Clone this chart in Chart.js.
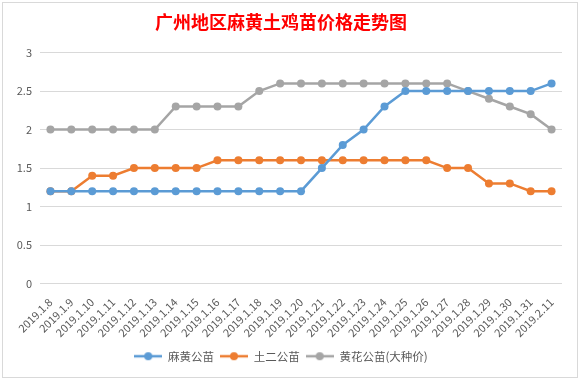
<!DOCTYPE html>
<html>
<head>
<meta charset="utf-8">
<script src="https://cdn.jsdelivr.net/npm/chart.js@4/dist/chart.umd.min.js"></script>
<style>
  html, body { margin: 0; padding: 0; background: #fff; }
  #wrap { position: relative; width: 580px; height: 380px; }
</style>
</head>
<body>
<div id="wrap"><canvas id="c"></canvas></div>
<script>
const titleText = '广州地区麻黄土鸡苗价格走势图';
const categories = ['2019.1.8','2019.1.9','2019.1.10','2019.1.11','2019.1.12','2019.1.13','2019.1.14','2019.1.15','2019.1.16','2019.1.17','2019.1.18','2019.1.19','2019.1.20','2019.1.21','2019.1.22','2019.1.23','2019.1.24','2019.1.25','2019.1.26','2019.1.27','2019.1.28','2019.1.29','2019.1.30','2019.1.31','2019.2.11'];
const seriesNames = ['麻黄公苗', '土二公苗', '黄花公苗(大种价)'];
const mahuang = [1.2,1.2,1.2,1.2,1.2,1.2,1.2,1.2,1.2,1.2,1.2,1.2,1.2,1.5,1.8,2.0,2.3,2.5,2.5,2.5,2.5,2.5,2.5,2.5,2.6];
const tuer = [1.2,1.2,1.4,1.4,1.5,1.5,1.5,1.5,1.6,1.6,1.6,1.6,1.6,1.6,1.6,1.6,1.6,1.6,1.6,1.5,1.5,1.3,1.3,1.2,1.2];
const huanghua = [2.0,2.0,2.0,2.0,2.0,2.0,2.3,2.3,2.3,2.3,2.5,2.6,2.6,2.6,2.6,2.6,2.6,2.6,2.6,2.6,2.5,2.4,2.3,2.2,2.0];
const colors = ['#5B9BD5', '#ED7D31', '#A5A5A5'];

function legendIcon(color) {
  const cv = document.createElement('canvas');
  cv.width = 28; cv.height = 10;
  const g = cv.getContext('2d');
  g.strokeStyle = color; g.lineWidth = 2.5;
  g.beginPath(); g.moveTo(0, 5); g.lineTo(28, 5); g.stroke();
  g.fillStyle = color;
  g.beginPath(); g.arc(14, 5, 4, 0, Math.PI * 2); g.fill();
  return cv;
}
const icons = colors.map(legendIcon);

const frame = {
  id: 'frame',
  beforeDraw(chart) {
    const ctx = chart.ctx;
    ctx.save();
    ctx.fillStyle = '#fff';
    ctx.fillRect(0, 0, chart.width, chart.height);
    ctx.strokeStyle = '#d9d9d9';
    ctx.lineWidth = 1;
    ctx.strokeRect(2.5, 2.5, 575, 375);
    ctx.restore();
  }
};

const mk = (i, data) => ({
  label: seriesNames[i], data,
  borderColor: colors[i], backgroundColor: colors[i],
  borderWidth: 2.5, pointRadius: 4, pointHoverRadius: 4,
  pointBorderWidth: 0, tension: 0, fill: false
});

new Chart(document.getElementById('c'), {
  type: 'line',
  data: { labels: categories, datasets: [mk(0, mahuang), mk(1, tuer), mk(2, huanghua)] },
  plugins: [frame],
  options: {
    responsive: true, maintainAspectRatio: false, animation: false,
    layout: { padding: { left: 0, right: 18, top: 0, bottom: 8 } },
    plugins: {
      title: {
        display: true, text: titleText, color: '#FF0000',
        font: { family: '"Noto Sans CJK SC"', size: 18, weight: 'bold' },
        padding: { top: 11, bottom: 20 }
      },
      legend: {
        position: 'bottom',
        labels: {
          usePointStyle: true, pointStyleWidth: 28, padding: 6,
          color: '#595959',
          font: { family: '"Noto Sans CJK SC"', size: 11.5 },
          generateLabels(chart) {
            const items = Chart.defaults.plugins.legend.labels.generateLabels(chart);
            items.forEach((it, i) => { it.pointStyle = icons[i]; });
            return items;
          }
        }
      },
      tooltip: { enabled: false }
    },
    scales: {
      x: {
        offset: true,
        grid: { display: false },
        border: { display: false },
        ticks: {
          autoSkip: false, minRotation: 45, maxRotation: 45, padding: 4,
          color: '#595959',
          font: { family: '"Noto Sans CJK SC"', size: 11 }
        },
        afterFit(s) { s.height = 61; }
      },
      y: {
        min: 0, max: 3,
        grid: { color: '#d9d9d9', drawTicks: false, lineWidth: 1 },
        border: { display: false },
        ticks: {
          stepSize: 0.5, padding: 8, color: '#595959',
          font: { family: '"Noto Sans CJK SC"', size: 11 },
          callback: (v) => String(Math.round(v * 10) / 10)
        },
        afterFit(s) { s.width = 40; }
      }
    }
  }
});
</script>
</body>
</html>
